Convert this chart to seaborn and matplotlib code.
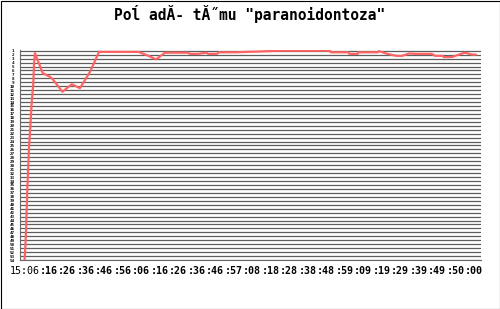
import matplotlib
matplotlib.use("Agg")
import matplotlib.pyplot as plt
import seaborn as sns
import pandas as pd
from matplotlib.patches import Rectangle
from matplotlib import transforms

# ---------------- data ----------------
title = 'Poĺ adĂ- tĂ˝mu "paranoidontoza"'

minutes = [0, 0.4, 0.8, 1.5, 2.4, 3.1, 3.8, 4.7, 5.1, 5.6, 7.4, 9.8, 13.7, 15.5,
           20.4, 25.5, 29.9, 35.4, 40.2, 61.5, 66, 71, 75.9, 88.3, 89.4, 93.7,
           98.4, 99.1, 104, 105, 114, 127, 138, 149, 165, 165.5, 175, 175.5,
           180, 180.5, 191, 191.5, 196, 201, 204, 208, 211, 220, 222, 226,
           226.5, 231, 234, 238, 242, 244]
rank = [54, 50.6, 46, 35.4, 25.3, 20.2, 14.3, 9.2, 4.1, 1.6, 3.8, 6.7, 7.6, 8.4,
        11.4, 9.5, 10.5, 6.3, 1.3, 1.3, 2.1, 3.2, 1.5, 1.5, 1.8, 1.8,
        1.5, 1.8, 1.8, 1.4, 1.4, 1.2, 1.0, 1.0, 1.0, 1.4, 1.4, 1.8,
        1.8, 1.4, 1.4, 1.1, 1.8, 2.3, 2.3, 1.7, 1.8, 1.8, 2.3, 2.3,
        2.6, 2.6, 2.1, 1.5, 2.0, 2.0]

x_label_pos = [0, 10, 20, 30, 40, 50, 60, 70, 80, 90, 100, 110, 120, 130, 140,
               150, 160, 170, 180, 190, 200, 210, 220, 230, 240]
x_labels = ["15:06", ":16", ":26", ":36", ":46", ":56", ":06", ":16", ":26",
            ":36", ":46", ":57", ":08", ":18", ":28", ":38", ":48", ":59",
            ":09", ":19", ":29", ":39", ":49", ":50", ":00"]
x_minor_pos = [5, 15, 25, 35, 45, 55, 65, 75, 85, 95, 105, 115, 125, 135, 145,
               155, 165, 175, 185, 195, 205, 215, 225, 235, 245]
y_ticks = list(range(1, 55))

df = pd.DataFrame({"minute": minutes, "rank": rank})

# ---------------- figure ----------------
sns.set_theme(style="white")
plt.rcParams["font.family"] = ["DejaVu Sans Mono", "DejaVu Sans"]

W, H = 500, 309
fig = plt.figure(figsize=(W / 100, H / 100), dpi=100)
fig.patch.set_facecolor("white")
ax = fig.add_axes([20 / W, (H - 260) / H, 461 / W, 210 / H])
ax.set_facecolor("white")

sns.lineplot(data=df, x="minute", y="rank", sort=False, color="#ff6464",
             linewidth=1.6, ax=ax, zorder=3)

ax.set_xlim(-2.5, 246.7)
ax.set_ylim(54, 0.82)

ax.set_yticks(y_ticks)
ax.set_yticklabels([str(v) for v in y_ticks], fontsize=3.1, fontweight="bold",
                   color="black")
ax.tick_params(axis="y", length=0, pad=4)
ax.yaxis.grid(True, color="#5e5e5e", linewidth=0.9)
ax.xaxis.grid(False)

ax.set_xticks(x_label_pos)
ax.set_xticks(x_minor_pos, minor=True)
ax.set_xticklabels([""] * len(x_label_pos))
ax.tick_params(axis="x", which="both", direction="out", length=3, width=0.8,
               color="#6a6a6a", pad=1)

for s in ["top", "right"]:
    ax.spines[s].set_visible(False)
for s in ["left", "bottom"]:
    ax.spines[s].set_color("#6a6a6a")
    ax.spines[s].set_linewidth(0.8)

ax.set_xlabel("")
ax.set_ylabel("")

# x labels (visible portions of overlapped labels)
trans = transforms.blended_transform_factory(ax.transData, fig.transFigure)
for i, (p, s) in enumerate(zip(x_label_pos, x_labels)):
    if i == 0:
        ax.text(p, 1 - 271 / H, s, transform=trans, ha="center", va="center",
                fontsize=7.2, color="black")
    else:
        off = transforms.offset_copy(trans, fig=fig, x=-3.5, y=0, units="dots")
        ax.text(p, 1 - 271 / H, s, transform=off, ha="left", va="center",
                fontsize=7.2, color="black", fontweight="bold")

fig.text(0.5, 1 - 14 / H, title, ha="center", va="center", fontsize=10.5,
         fontweight="bold", color="black")

fig.patches.append(Rectangle((0.5 / W, 0.5 / H), 1 - 1 / W, 1 - 1 / H,
                             transform=fig.transFigure, fill=False,
                             edgecolor="black", linewidth=0.8))

fig.savefig("out.png", dpi=100)
